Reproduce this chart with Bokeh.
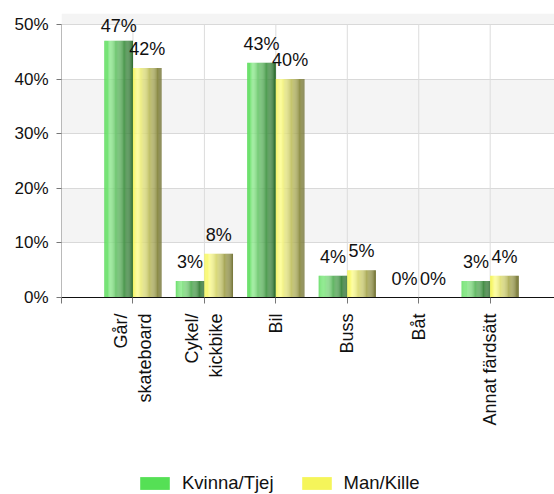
import math
from bokeh.plotting import figure
from bokeh.layouts import column
from bokeh.models import (Range1d, FixedTicker, PrintfTickFormatter, LabelSet,
                          ColumnDataSource, Legend, LegendItem)
from bokeh.core.properties import value
from bokeh.embed import file_html
from bokeh.resources import INLINE

# ---- data ----
categories = ["Går/\nskateboard", "Cykel/\nkickbike", "Bil", "Buss", "Båt", "Annat färdsätt"]
kvinna = [47, 3, 43, 4, 0, 3]
man = [42, 8, 40, 5, 0, 4]
series_names = ["Kvinna/Tjej", "Man/Kille"]
y_ticks = [0, 10, 20, 30, 40, 50]

FONT = "Liberation Sans"
BAR_W = 0.4
N_STRIPS = 32
Y_TOP = 52            # a little headroom above the 50% line for value labels
FRAME_H = 284         # pixel height of the plotting frame
PX_PER_UNIT = FRAME_H / Y_TOP
MAIN_H = 464
LEG_H = 30

green_stops = [(0.0, "#52da52"), (0.2, "#8fea8f"), (0.55, "#5aae5c"), (1.0, "#2e6c31")]
yellow_stops = [(0.0, "#f4f455"), (0.18, "#fdfd8e"), (0.55, "#c4c46a"), (1.0, "#737337")]


def hex2rgb(h):
    h = h.lstrip("#")
    return tuple(int(h[i:i + 2], 16) for i in (0, 2, 4))


def grad_color(stops, t):
    for (t0, c0), (t1, c1) in zip(stops[:-1], stops[1:]):
        if t0 <= t <= t1:
            f = (t - t0) / (t1 - t0) if t1 > t0 else 0
            a, b = hex2rgb(c0), hex2rgb(c1)
            r = [round(a[i] + (b[i] - a[i]) * f) for i in range(3)]
            return "#%02x%02x%02x" % tuple(r)
    return stops[-1][1]


p = figure(width=554, height=MAIN_H, output_backend="svg", toolbar_location=None,
           x_range=Range1d(0, 6.9), y_range=Range1d(0, Y_TOP),
           min_border_left=61, min_border_right=0, min_border_top=297 - FRAME_H,
           min_border_bottom=MAIN_H - 297)
p.outline_line_color = None
p.background_fill_color = "white"
p.border_fill_color = "white"

positions = list(range(1, len(categories) + 1))

# vertical grid lines and y-axis line (stopping at the 50% line)
p.segment(x0=positions, y0=0, x1=positions, y1=y_ticks[-1], line_color="#dcdcdc", line_width=1)
p.segment(x0=[0], y0=[0], x1=[0], y1=[y_ticks[-1]], line_color="#777777", line_width=1)


def draw_series(vals, offset, stops):
    xs, tops, colors = [], [], []
    for pos, v in zip(positions, vals):
        left = pos + offset
        for i in range(N_STRIPS):
            t = (i + 0.5) / N_STRIPS
            xs.append(left + (i + 0.5) * BAR_W / N_STRIPS)
            tops.append(v)
            colors.append(grad_color(stops, t))
    src = ColumnDataSource(dict(x=xs, top=tops, color=colors))
    p.vbar(x="x", top="top", bottom=0, width=BAR_W / N_STRIPS * 1.1, fill_color="color",
           line_color=None, source=src)


draw_series(kvinna, -BAR_W, green_stops)
draw_series(man, 0.0, yellow_stops)

# value labels
lab_x = [pos - BAR_W / 2 for pos in positions] + [pos + BAR_W / 2 for pos in positions]
lab_y = kvinna + man
lab_t = ["%d%%" % v for v in lab_y]
lab_off = [min(13, (y_ticks[-1] - v) * PX_PER_UNIT - 8) for v in lab_y]
lab_src = ColumnDataSource(dict(x=lab_x, y=lab_y, t=lab_t, off=lab_off))
labels = LabelSet(x="x", y="y", text="t", source=lab_src, text_align="center",
                  text_baseline="alphabetic", y_offset="off", text_font=value(FONT),
                  text_font_size="18px", text_color="#111111")
p.add_layout(labels)

# axes
p.yaxis.ticker = FixedTicker(ticks=y_ticks)
p.yaxis.formatter = PrintfTickFormatter(format="%d%%")
p.yaxis.major_label_text_font = FONT
p.yaxis.major_label_text_font_size = "17px"
p.yaxis.major_label_text_color = "#111111"
p.yaxis.major_tick_out = 5
p.yaxis.major_tick_in = 0
p.yaxis.minor_tick_line_color = None
p.yaxis.axis_line_color = None
p.yaxis.major_tick_line_color = "#777777"
p.yaxis.major_label_standoff = 8

p.xaxis.ticker = FixedTicker(ticks=[0] + positions)
overrides = {0: ""}
for pos, c in zip(positions, categories):
    overrides[pos] = c
p.xaxis.major_label_overrides = overrides
p.xaxis.major_label_orientation = math.pi / 2
p.xaxis.major_label_text_font = FONT
p.xaxis.major_label_text_font_size = "18px"
p.xaxis.major_label_text_color = "#111111"
p.xaxis.major_tick_out = 6
p.xaxis.major_tick_in = 0
p.xaxis.minor_tick_line_color = None
p.xaxis.axis_line_color = "#111111"
p.xaxis.major_tick_line_color = "#777777"
p.xaxis.major_label_standoff = 10

# grids
p.ygrid.ticker = FixedTicker(ticks=y_ticks)
p.ygrid.grid_line_color = "#d9d9d9"
p.ygrid.band_fill_color = "#f4f4f4"
p.ygrid.band_fill_alpha = 1.0
p.xgrid.grid_line_color = None

# legend strip (separate small figure below the chart)
lf = figure(width=554, height=LEG_H, output_backend="svg", toolbar_location=None,
            x_range=Range1d(0, 1), y_range=Range1d(0, 1),
            x_axis_location=None, y_axis_location=None, min_border=0)
lf.outline_line_color = None
lf.background_fill_alpha = 0
lf.border_fill_alpha = 0
lf.xgrid.visible = False
lf.ygrid.visible = False
# legend-only renderers (zero-height bars, so nothing is drawn in the strip itself)
g_r = lf.vbar(x=[0.5], top=[0], bottom=0, width=0.1, fill_color="#55e055", line_color=None)
y_r = lf.vbar(x=[0.5], top=[0], bottom=0, width=0.1, fill_color="#f5f55a", line_color=None)
legend = Legend(items=[LegendItem(label=series_names[0], renderers=[g_r]),
                       LegendItem(label=series_names[1], renderers=[y_r])],
                location=(75, 0), orientation="horizontal",
                glyph_width=37, glyph_height=16, label_standoff=9, spacing=24,
                padding=0, margin=0, border_line_color=None, background_fill_alpha=0,
                label_text_font=FONT, label_text_font_size="18.5px", label_height=16,
                label_text_color="#111111", label_text_baseline="middle")
lf.add_layout(legend)

layout = column(p, lf, spacing=0)
open("out.html", "w").write(file_html(layout, INLINE))
